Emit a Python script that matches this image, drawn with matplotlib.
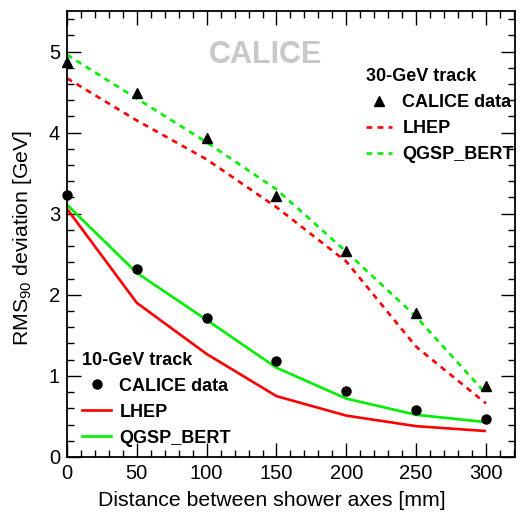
import matplotlib
matplotlib.use("Agg")
import matplotlib.pyplot as plt
from matplotlib.ticker import MultipleLocator
from matplotlib.lines import Line2D

plt.rcParams['font.family'] = ['Liberation Sans', 'DejaVu Sans']
plt.rcParams['mathtext.fontset'] = 'custom'
plt.rcParams['mathtext.rm'] = 'Liberation Sans'
plt.rcParams['mathtext.it'] = 'Liberation Sans:italic'

distance = [0, 50, 100, 150, 200, 250, 300]

# 10-GeV track
data10 = [3.23, 2.32, 1.72, 1.18, 0.81, 0.58, 0.47]
lhep10 = [3.06, 1.90, 1.27, 0.75, 0.51, 0.38, 0.32]
qgsp10 = [3.11, 2.27, 1.69, 1.10, 0.72, 0.52, 0.43]

# 30-GeV track
data30 = [4.87, 4.49, 3.93, 3.22, 2.54, 1.78, 0.88]
lhep30 = [4.67, 4.15, 3.67, 3.08, 2.41, 1.36, 0.66]
qgsp30 = [4.96, 4.42, 3.88, 3.30, 2.53, 1.73, 0.78]

RED = '#ff0000'
GREEN = '#00ee00'
DASH = (0, (2.2, 2.0))

fig = plt.figure(figsize=(5.26, 5.13), dpi=100)
ax = fig.add_axes([0.1274, 0.1092, 0.9791 - 0.1274, 0.9786 - 0.1092])

ax.plot(distance, lhep10, color=RED, lw=1.9, solid_capstyle='butt')
ax.plot(distance, qgsp10, color=GREEN, lw=1.9, solid_capstyle='butt')
ax.plot(distance, lhep30, color=RED, lw=1.9, ls=DASH)
ax.plot(distance, qgsp30, color=GREEN, lw=1.9, ls=DASH)
ax.plot(distance, data10, 'o', color='black', ms=6.5, clip_on=False, zorder=5)
ax.plot(distance, data30, '^', color='black', ms=7.5, clip_on=False, zorder=5)

ax.set_xlim(0, 320.8)
ax.set_ylim(0, 5.5)
ax.xaxis.set_major_locator(MultipleLocator(50))
ax.xaxis.set_minor_locator(MultipleLocator(10))
ax.yaxis.set_major_locator(MultipleLocator(1))
ax.yaxis.set_minor_locator(MultipleLocator(0.2))
ax.tick_params(which='both', direction='in', top=True, right=True, width=1.0,
               labelsize=14.5, color='black')
ax.tick_params(which='major', length=10, pad=5)
ax.tick_params(which='minor', length=5)
for s in ax.spines.values():
    s.set_linewidth(1.3)

ax.set_xlabel('Distance between shower axes [mm]', fontsize=15.3)
ax.xaxis.set_label_coords(0.458, -0.077)
ax.set_ylabel('RMS$_{90}$ deviation [GeV]', fontsize=15.3)
ax.yaxis.set_label_coords(-0.073, 0.492)

ax.text(0.442, 0.901, 'CALICE', transform=ax.transAxes, color='#c8c8c8',
        fontsize=22, fontweight='bold', ha='center', va='center')

prop = {'weight': 'bold', 'size': 13}

h30 = [Line2D([], [], marker='^', color='black', ls='none', ms=7),
       Line2D([], [], color=RED, lw=1.9, ls=DASH),
       Line2D([], [], color=GREEN, lw=1.9, ls=DASH)]
leg30 = ax.legend(h30, ['CALICE data', 'LHEP', 'QGSP_BERT'],
                  title='30-GeV track', title_fontproperties=prop, prop=prop,
                  frameon=False, alignment='left', loc='upper left',
                  bbox_to_anchor=(0.668, 0.872), handlelength=1.45,
                  handletextpad=0.55, labelspacing=0.5, borderpad=0,
                  borderaxespad=0)
ax.add_artist(leg30)

h10 = [Line2D([], [], marker='o', color='black', ls='none', ms=6.5),
       Line2D([], [], color=RED, lw=1.9),
       Line2D([], [], color=GREEN, lw=1.9)]
ax.legend(h10, ['CALICE data', 'LHEP', 'QGSP_BERT'],
          title='10-GeV track', title_fontproperties=prop, prop=prop,
          frameon=False, alignment='left', loc='upper left',
          bbox_to_anchor=(0.034, 0.236), handlelength=1.6,
          handletextpad=0.45, labelspacing=0.5, borderpad=0,
          borderaxespad=0)

fig.savefig('out.png', dpi=100)
